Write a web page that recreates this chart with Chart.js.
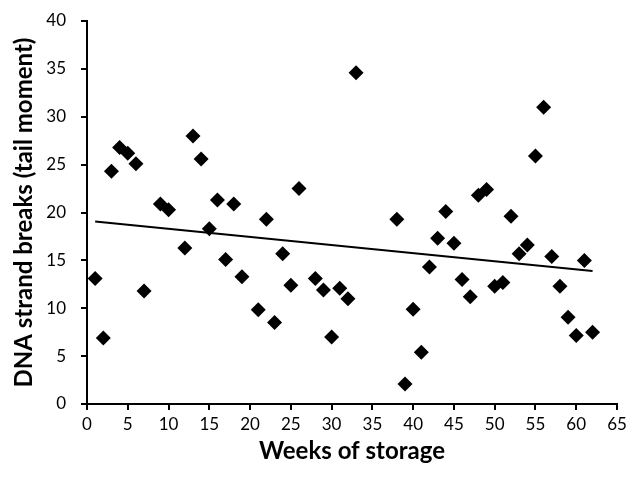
<!DOCTYPE html>
<html>
<head>
<meta charset="utf-8">
<script src="https://cdn.jsdelivr.net/npm/chart.js@4"></script>
<style>
  html, body { margin: 0; padding: 0; background: #fff; }
  #wrap { width: 629px; height: 479px; }
</style>
</head>
<body>
<div id="wrap"><canvas id="myChart" width="629" height="479"></canvas></div>
<script>
// weeks of storage and tail moment values
var weeks = [1, 2, 3, 4, 5, 6, 7, 9, 10, 12, 13, 14, 15, 16, 17, 18, 19, 21, 22, 23,
             24, 25, 26, 28, 29, 30, 31, 32, 33, 38, 39, 40, 41, 42, 43, 44, 45, 46, 47, 48,
             49, 50, 51, 52, 53, 54, 55, 56, 57, 58, 59, 60, 61, 62];
var tailMoment = [13.1, 6.9, 24.3, 26.8, 26.2, 25.1, 11.8, 20.9, 20.3, 16.3, 28.0, 25.6, 18.3, 21.3, 15.1, 20.9, 13.3, 9.85, 19.3, 8.5,
                  15.7, 12.4, 22.5, 13.1, 11.9, 7.0, 12.1, 11.0, 34.6, 19.3, 2.1, 9.9, 5.4, 14.3, 17.3, 20.1, 16.8, 13.0, 11.2, 21.8,
                  22.4, 12.3, 12.7, 19.6, 15.7, 16.6, 25.9, 31.0, 15.4, 12.3, 9.05, 7.15, 15.0, 7.5];

// linear trend line end points
var trendWeeks = [1, 62];
var trendValues = [19.05, 13.9];

var xTicks = [0, 5, 10, 15, 20, 25, 30, 35, 40, 45, 50, 55, 60, 65];
var yTicks = [0, 5, 10, 15, 20, 25, 30, 35, 40];

var points = weeks.map(function(w, i) { return {x: w, y: tailMoment[i]}; });
var trend = trendWeeks.map(function(w, i) { return {x: w, y: trendValues[i]}; });

var tickFont = {family: 'Lato', size: 17};
var titleFont = {family: 'Lato', size: 24, weight: 'bold'};

var ctx = document.getElementById('myChart').getContext('2d');
var myChart = new Chart(ctx, {
    type: 'scatter',
    data: {
        datasets: [{
            label: 'Tail moment',
            data: points,
            pointStyle: 'rectRot',
            pointRadius: 7.5,
            backgroundColor: '#000',
            borderColor: '#000',
            borderWidth: 0
        }, {
            label: 'Trend',
            data: trend,
            showLine: true,
            pointRadius: 0,
            borderColor: '#000',
            borderWidth: 2
        }]
    },
    options: {
        responsive: false,
        animation: false,
        layout: {padding: {top: 21, right: 12, left: 0, bottom: 0}},
        plugins: {legend: {display: false}, tooltip: {enabled: false}},
        scales: {
            x: {
                type: 'linear',
                min: 0, max: 65,
                afterBuildTicks: function(s) { s.ticks = xTicks.map(function(v) { return {value: v}; }); },
                afterFit: function(s) { s.height = 75; s.paddingRight = 0; s.paddingLeft = 0; },
                grid: {drawOnChartArea: false, drawTicks: true, tickLength: 6, color: '#000', lineWidth: 2},
                border: {color: '#000', width: 2},
                ticks: {color: '#000', font: tickFont, padding: 4, maxRotation: 0},
                title: {display: true, text: 'Weeks of storage', color: '#000', font: titleFont, padding: {top: 0, bottom: 13}}
            },
            y: {
                type: 'linear',
                min: 0, max: 40,
                afterBuildTicks: function(s) { s.ticks = yTicks.map(function(v) { return {value: v}; }); },
                afterFit: function(s) { s.width = 87; s.paddingTop = 0; s.paddingBottom = 0; },
                grid: {drawOnChartArea: false, drawTicks: true, tickLength: 6, color: '#000', lineWidth: 2},
                border: {color: '#000', width: 2},
                ticks: {color: '#000', font: tickFont, padding: 15},
                title: {display: true, text: 'DNA strand breaks (tail moment)', color: '#000', font: titleFont, padding: {top: 10, bottom: 0}}
            }
        }
    }
});
</script>
</body>
</html>
